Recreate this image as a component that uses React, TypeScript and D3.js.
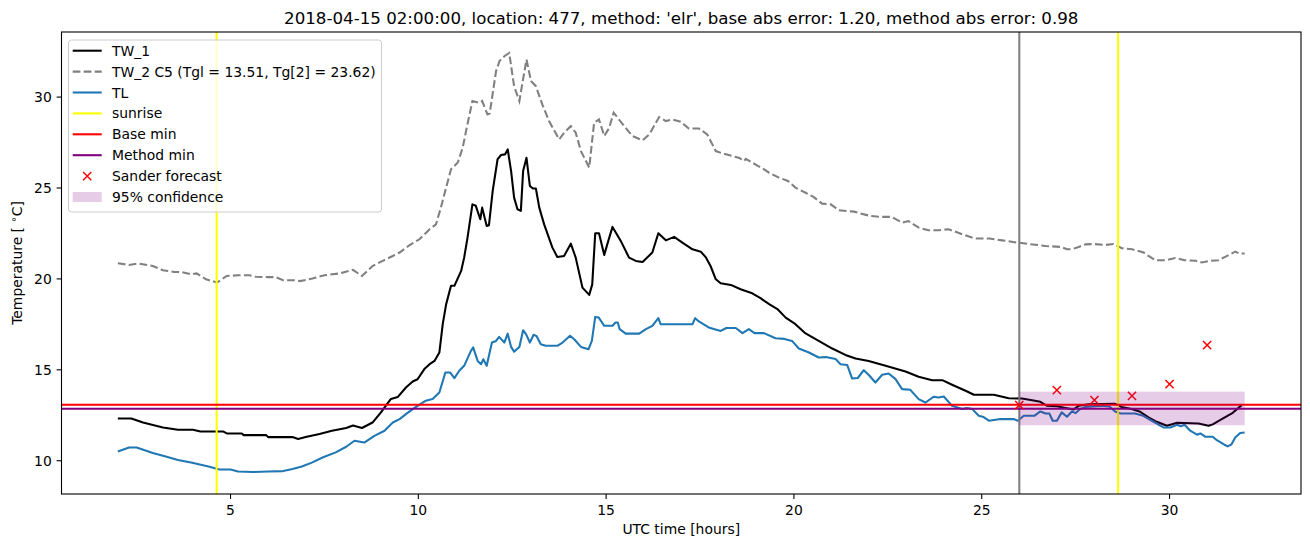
import React from "react";
import * as d3 from "d3";

// ---------- data ----------
const TW1_T = [2.0,2.36,2.67,3.2,3.6,4.0,4.2,4.8,4.9,5.3,5.35,5.95,6.0,6.65,6.8,7.0,7.37,7.7,8.08,8.26,8.5,8.78,9.0,9.27,9.45,9.67,9.85,9.98,10.16,10.3,10.43,10.56,10.65,10.74,10.87,10.96,11.14,11.22,11.31,11.44,11.53,11.65,11.7,11.82,11.88,11.98,12.11,12.2,12.31,12.38,12.47,12.55,12.64,12.73,12.79,12.88,12.97,13.05,13.13,13.22,13.35,13.57,13.7,13.88,14.06,14.19,14.37,14.55,14.63,14.71,14.81,14.95,15.03,15.17,15.39,15.61,15.79,15.97,16.23,16.39,16.59,16.81,17.03,17.3,17.52,17.65,17.78,17.92,18.05,18.32,18.58,18.89,19.11,19.34,19.56,19.78,20.04,20.31,20.66,21.02,21.37,21.64,21.99,22.44,22.97,23.32,23.68,23.95,24.21,24.57,24.79,25.32,25.72,26.07,26.34,26.56,26.74,27.0,27.27,27.45,27.58,27.85,28.55,28.72,28.99,29.2,29.44,29.66,29.93,30.02,30.2,30.77,31.04,31.15,31.39,31.66,31.92];
const TW1_V = [12.32,12.32,12.1,11.83,11.7,11.7,11.61,11.61,11.5,11.5,11.41,11.41,11.3,11.3,11.2,11.3,11.47,11.65,11.8,11.94,11.8,12.1,12.65,13.4,13.5,14.03,14.36,14.48,15.04,15.31,15.49,15.95,17.51,18.6,19.62,19.62,20.44,21.17,22.27,24.1,24.02,23.28,23.92,22.91,22.95,24.84,26.58,26.81,26.85,27.12,25.93,24.47,23.83,23.74,25.93,26.66,25.11,24.97,24.97,23.92,23.0,21.72,21.21,21.26,21.94,21.17,19.52,19.12,19.7,22.51,22.51,21.32,21.9,22.86,22.09,21.17,20.99,20.93,21.45,22.51,22.12,22.31,22.0,21.63,21.5,21.2,20.71,19.98,19.76,19.67,19.43,19.21,18.94,18.61,18.34,17.87,17.51,17.0,16.59,16.17,15.82,15.62,15.49,15.22,14.91,14.62,14.43,14.43,14.18,13.85,13.63,13.63,13.44,13.42,13.33,13.24,13.02,13.0,12.89,12.82,13.02,13.11,13.13,12.96,12.84,12.71,12.38,12.14,11.92,11.98,12.09,12.05,11.92,12.0,12.29,12.6,13.06];

const TL_T = [2.0,2.3,2.5,2.93,3.3,3.6,3.95,4.44,4.7,5.0,5.2,5.6,6.0,6.4,6.65,6.9,7.18,7.45,7.8,8.08,8.3,8.56,8.83,9.1,9.32,9.5,9.67,9.85,10.03,10.2,10.38,10.56,10.72,10.85,10.96,11.09,11.22,11.4,11.46,11.58,11.67,11.73,11.82,11.96,12.07,12.15,12.29,12.38,12.47,12.55,12.69,12.79,12.87,12.97,13.07,13.15,13.26,13.39,13.7,13.84,14.04,14.15,14.33,14.53,14.62,14.71,14.8,14.95,15.17,15.25,15.31,15.36,15.52,15.88,16.06,16.23,16.39,16.45,16.94,17.3,17.37,17.47,17.73,18.05,18.2,18.45,18.63,18.8,18.95,19.2,19.51,19.75,19.95,20.13,20.4,20.66,20.85,21.11,21.24,21.42,21.55,21.7,21.86,22.0,22.17,22.35,22.52,22.7,22.88,23.1,23.32,23.5,23.72,23.85,23.99,24.21,24.48,24.6,24.75,24.92,25.05,25.19,25.5,25.85,25.96,26.12,26.4,26.56,26.7,26.8,26.89,27.0,27.13,27.27,27.4,27.5,27.62,27.76,28.2,28.4,28.55,28.7,29.08,29.3,29.53,29.71,29.84,30.02,30.2,30.3,30.4,30.55,30.73,30.82,30.95,31.15,31.26,31.46,31.55,31.65,31.75,31.88,32.0];
const TL_V = [10.51,10.73,10.73,10.42,10.22,10.04,9.9,9.67,9.52,9.52,9.41,9.38,9.41,9.43,9.54,9.68,9.91,10.18,10.46,10.77,11.1,11.0,11.37,11.65,12.1,12.29,12.56,12.84,13.08,13.3,13.39,13.75,14.85,14.85,14.54,14.95,15.22,16.04,16.23,15.49,15.31,15.58,15.22,16.5,16.59,16.81,16.5,16.99,16.26,16.0,16.26,17.18,16.95,16.5,16.93,16.85,16.41,16.32,16.32,16.5,16.87,16.68,16.26,16.13,16.59,17.91,17.88,17.42,17.42,17.6,17.6,17.24,16.99,16.99,17.24,17.42,17.84,17.51,17.51,17.51,17.84,17.66,17.33,17.14,17.3,17.3,17.02,17.24,17.02,17.02,16.74,16.7,16.59,16.17,15.95,15.68,15.7,15.59,15.31,15.26,14.52,14.55,14.98,14.7,14.3,14.73,14.8,14.5,13.94,13.9,13.39,13.2,13.52,13.48,13.53,13.02,12.84,12.9,12.84,12.47,12.4,12.2,12.29,12.29,12.2,12.47,12.47,12.71,12.6,12.6,12.2,12.2,12.66,12.42,12.71,12.62,12.84,12.96,13.02,12.98,12.71,12.6,12.6,12.47,12.2,11.98,11.83,11.83,11.98,11.9,11.98,11.65,11.43,11.5,11.32,11.32,11.13,10.88,10.79,10.9,11.28,11.52,11.55];

const TW2_T = [2.0,2.3,2.55,2.93,3.2,3.5,3.7,3.95,4.1,4.35,4.64,4.9,5.2,5.5,5.67,6.0,6.2,6.4,6.7,6.85,7.18,7.5,7.9,8.26,8.5,8.78,9.05,9.32,9.5,9.76,10.03,10.3,10.47,10.6,10.74,10.87,11.05,11.18,11.27,11.44,11.62,11.7,11.84,11.9,12.07,12.16,12.29,12.42,12.55,12.69,12.78,12.88,13.0,13.13,13.3,13.48,13.75,13.88,14.06,14.19,14.33,14.55,14.68,14.81,14.95,15.08,15.2,15.52,15.7,15.97,16.15,16.41,16.59,16.76,16.99,17.2,17.47,17.69,17.92,18.1,18.36,18.55,18.67,18.72,18.97,19.16,19.34,19.6,19.84,20.04,20.31,20.53,20.75,20.98,21.2,21.42,21.6,21.77,22.04,22.3,22.6,22.88,23.05,23.32,23.58,23.85,24.12,24.48,24.83,25.2,25.54,25.94,26.26,26.7,27.1,27.27,27.4,27.58,27.76,27.98,28.3,28.51,28.73,29.0,29.31,29.44,29.62,29.9,30.15,30.4,30.7,30.86,31.1,31.3,31.48,31.75,31.85,32.0];
const TW2_V = [20.86,20.77,20.85,20.71,20.48,20.38,20.38,20.25,20.3,19.98,19.8,20.16,20.2,20.2,20.12,20.1,20.1,19.93,19.93,19.88,20.02,20.2,20.3,20.5,20.16,20.71,20.99,21.26,21.45,21.85,22.18,22.73,23.0,23.92,25.02,26.03,26.4,27.2,28.13,29.78,29.69,29.78,29.05,29.1,31.43,31.98,32.25,32.43,30.6,29.78,30.88,32.07,30.88,30.6,29.6,28.68,27.67,28.04,28.4,28.04,27.03,26.12,28.59,28.77,27.86,28.3,29.14,28.31,27.86,27.62,27.95,28.9,28.68,28.77,28.64,28.27,28.27,27.95,27.03,26.9,26.76,26.65,26.48,26.6,26.3,26.08,25.84,25.57,25.39,25.02,24.74,24.5,24.14,24.1,23.77,23.73,23.7,23.6,23.46,23.41,23.41,23.1,23.18,22.82,22.68,22.68,22.73,22.46,22.22,22.22,22.12,22.0,21.92,21.81,21.76,21.63,21.63,21.76,21.9,21.92,21.87,21.92,21.69,21.63,21.45,21.26,21.03,21.03,21.15,21.03,21.0,20.9,21.0,21.03,21.21,21.5,21.4,21.4];

const SANDER_T = [26, 27, 28, 29, 30, 31];
const SANDER_V = [13.06, 13.88, 13.33, 13.57, 14.21, 16.36];

const SUNRISE = [4.63, 28.63];
const NOW_LINE = 26;
const BASE_MIN = 13.08;
const METHOD_MIN = 12.86;
const CONF_T = [26, 32];
const CONF_LOW = 11.95;
const CONF_HIGH = 13.8;

const X_TICKS = [5, 10, 15, 20, 25, 30];
const Y_TICKS = [10, 15, 20, 25, 30];

const TITLE = "2018-04-15 02:00:00, location: 477, method: 'elr', base abs error: 1.20, method abs error: 0.98";
const LEGEND_LABELS = ["TW_1", "TW_2 C5 (Tgl = 13.51, Tg[2] = 23.62)", "TL", "sunrise", "Base min", "Method min", "Sander forecast", "95% confidence"];

// ---------- layout ----------
const W = 1310, H = 547;
const L = 61.5, R = 1301, T = 32, B = 494;
const FONT = "DejaVu Sans, sans-serif";
const FS = 13.9;

export default function App() {
  const x = d3.scaleLinear().domain([0.5, 33.5]).range([L, R]);
  const y = d3.scaleLinear().domain([8.17, 33.58]).range([B, T]);
  const mk = (ts: number[], vs: number[]) =>
    d3.line<number>().x((_, i) => x(ts[i])).y((v) => y(v))(vs) || "";

  const lw = 2.08;
  const ms = 4.1;
  const legendX = 68.5, legendY = 40, legendW = 313, legendH = 172;
  const rowY = (i: number) => 50.7 + i * 20.9;
  const hx0 = 72.7, hx1 = 101.7, tx = 112;

  return (
    <svg width={W} height={H} style={{ position: "absolute", left: 0, top: 0, background: "#fff" }} fontFamily={FONT}>
      <rect x={0} y={0} width={W} height={H} fill="#fff" />
      <defs>
        <clipPath id="ax">
          <rect x={L} y={T} width={R - L} height={B - T} />
        </clipPath>
      </defs>
      <g clipPath="url(#ax)">
        <path d={mk(TW1_T, TW1_V)} fill="none" stroke="#000" strokeWidth={lw} strokeLinejoin="round" />
        <path d={mk(TW2_T, TW2_V)} fill="none" stroke="#808080" strokeWidth={lw} strokeDasharray="7.7,3.3" />
        <path d={mk(TL_T, TL_V)} fill="none" stroke="#1f77b4" strokeWidth={lw} strokeLinejoin="round" />
        <line x1={x(NOW_LINE)} x2={x(NOW_LINE)} y1={T} y2={B} stroke="#808080" strokeWidth={lw} />
        {SUNRISE.map((s, i) => (
          <line key={i} x1={x(s)} x2={x(s)} y1={T} y2={B} stroke="#ffff00" strokeWidth={lw} />
        ))}
        <line x1={L} x2={R} y1={y(BASE_MIN)} y2={y(BASE_MIN)} stroke="#ff0000" strokeWidth={lw} />
        <line x1={L} x2={R} y1={y(METHOD_MIN)} y2={y(METHOD_MIN)} stroke="#800080" strokeWidth={lw} />
        {SANDER_T.map((t, i) => {
          const cx = x(t), cy = y(SANDER_V[i]);
          return (
            <path key={i} d={`M${cx - ms},${cy - ms}L${cx + ms},${cy + ms}M${cx - ms},${cy + ms}L${cx + ms},${cy - ms}`} stroke="#ff0000" strokeWidth={1.5} />
          );
        })}
        <rect x={x(CONF_T[0])} width={x(CONF_T[1]) - x(CONF_T[0])} y={y(CONF_HIGH)} height={y(CONF_LOW) - y(CONF_HIGH)} fill="#800080" fillOpacity={0.2} />
      </g>

      {/* axes frame */}
      <rect x={L} y={T} width={R - L} height={B - T} fill="none" stroke="#000" strokeWidth={1.1} />
      {X_TICKS.map((t) => (
        <g key={t}>
          <line x1={x(t)} x2={x(t)} y1={B} y2={B + 4.9} stroke="#000" strokeWidth={1.1} />
          <text x={x(t)} y={B + 20.5} textAnchor="middle" fontSize={FS} fill="#000">{t}</text>
        </g>
      ))}
      {Y_TICKS.map((t) => (
        <g key={t}>
          <line x1={L - 4.9} x2={L} y1={y(t)} y2={y(t)} stroke="#000" strokeWidth={1.1} />
          <text x={L - 9.7} y={y(t)} dy="0.36em" textAnchor="end" fontSize={FS} fill="#000">{t}</text>
        </g>
      ))}
      <text x={(L + R) / 2} y={534} textAnchor="middle" fontSize={FS} fill="#000">UTC time [hours]</text>
      <text transform={`translate(22,${(T + B) / 2}) rotate(-90)`} textAnchor="middle" fontSize={FS} fill="#000">
        Temperature [ <tspan dy={-5} fontSize={10}>∘</tspan><tspan dy={5}>C]</tspan>
      </text>
      <text x={(L + R) / 2} y={23.5} textAnchor="middle" fontSize={16.67} fill="#000">{TITLE}</text>

      {/* legend */}
      <rect x={legendX} y={legendY} width={legendW} height={legendH} rx={3} fill="#fff" fillOpacity={0.8} stroke="#cccccc" strokeWidth={1} />
      {LEGEND_LABELS.map((lab, i) => {
        const ry = rowY(i);
        let handle: React.ReactNode = null;
        if (i === 0) handle = <line x1={hx0} x2={hx1} y1={ry} y2={ry} stroke="#000" strokeWidth={lw} />;
        if (i === 1) handle = <line x1={hx0} x2={hx1} y1={ry} y2={ry} stroke="#808080" strokeWidth={lw} strokeDasharray="7.7,3.3" />;
        if (i === 2) handle = <line x1={hx0} x2={hx1} y1={ry} y2={ry} stroke="#1f77b4" strokeWidth={lw} />;
        if (i === 3) handle = <line x1={hx0} x2={hx1} y1={ry} y2={ry} stroke="#ffff00" strokeWidth={lw} />;
        if (i === 4) handle = <line x1={hx0} x2={hx1} y1={ry} y2={ry} stroke="#ff0000" strokeWidth={lw} />;
        if (i === 5) handle = <line x1={hx0} x2={hx1} y1={ry} y2={ry} stroke="#800080" strokeWidth={lw} />;
        if (i === 6) {
          const cx = (hx0 + hx1) / 2;
          handle = <path d={`M${cx - ms},${ry - ms}L${cx + ms},${ry + ms}M${cx - ms},${ry + ms}L${cx + ms},${ry - ms}`} stroke="#ff0000" strokeWidth={1.5} />;
        }
        if (i === 7) handle = <rect x={hx0} y={ry - 5} width={hx1 - hx0} height={10} fill="#800080" fillOpacity={0.2} />;
        return (
          <g key={i}>
            {handle}
            <text x={tx} y={ry} dy="0.36em" fontSize={FS} fill="#000">{lab}</text>
          </g>
        );
      })}
    </svg>
  );
}
